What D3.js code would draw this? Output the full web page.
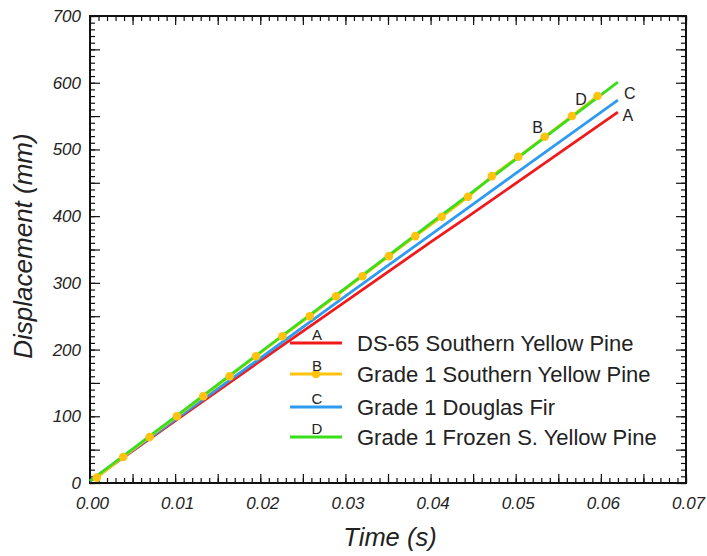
<!DOCTYPE html>
<html>
<head>
<meta charset="utf-8">
<script src="https://cdn.jsdelivr.net/npm/d3@7"></script>
<style>
  body { margin: 0; background: #fff; }
  text { font-family: "Liberation Sans", Arial, sans-serif; fill: #222; }
</style>
</head>
<body>
<div id="wrap"></div>
<script>
// data
const seriesNames = ["DS-65 Southern Yellow Pine", "Grade 1 Southern Yellow Pine", "Grade 1 Douglas Fir", "Grade 1 Frozen S. Yellow Pine"];
const seriesKeys = ["A", "B", "C", "D"];
const colors = ["#f01a1a", "#ffc20e", "#2f9bf0", "#3ade1a"];

const timeA = [0, 0.01, 0.02, 0.03, 0.04, 0.044, 0.05, 0.062];
const dispA = [3, 93, 183, 272, 361, 396, 449, 556];

const timeB = [0.0008, 0.0039, 0.0070, 0.0102, 0.0133, 0.0164, 0.0195, 0.0226, 0.0258, 0.0289,
  0.0320, 0.0351, 0.0382, 0.0413, 0.0444, 0.0472, 0.0503, 0.0534, 0.0566, 0.0596];
const dispB = [8, 39, 69, 100, 130, 160, 190, 220, 250, 280, 310, 340, 370, 399, 429, 460, 489, 519, 550, 580];

const timeC = [0, 0.01, 0.02, 0.03, 0.04, 0.05, 0.062];
const dispC = [3, 95, 187, 280, 372, 464, 574];

const timeD = [0, 0.01, 0.02, 0.03, 0.04, 0.05, 0.062];
const dispD = [3, 99, 196, 292, 389, 485, 601];

const xTicks = [0, 0.01, 0.02, 0.03, 0.04, 0.05, 0.06, 0.07];
const yTicks = [0, 100, 200, 300, 400, 500, 600, 700];

const width = 707;
const height = 556;
const plot = { left: 90, right: 686, top: 16, bottom: 483 };

let svg = d3.select("#wrap")
  .append("svg")
  .attr("width", width)
  .attr("height", height);

const x = d3.scaleLinear().domain([0, 0.07]).range([plot.left, plot.right]);
const y = d3.scaleLinear().domain([0, 700]).range([plot.bottom, plot.top]);

const minorX = d3.range(0, 71).map(i => i / 1000);
const midX = d3.range(0, 15).map(i => i * 0.005);
const minorY = d3.range(0, 71).map(i => i * 10);
const midY = d3.range(0, 15).map(i => i * 50);

// 画坐标轴 - ticks point inward on all four sides
function tickAxis(axis, values, size, transform, fmt, pad) {
  const g = svg.append("g").attr("transform", transform);
  axis.tickValues(values).tickSizeInner(size).tickSizeOuter(0).tickPadding(pad || 9);
  axis.tickFormat(fmt || "");
  g.call(axis);
  g.select(".domain").remove();
  g.selectAll(".tick line").attr("stroke", "#111").attr("stroke-width", 1.2);
  g.selectAll(".tick text")
    .style("font-size", "17px")
    .style("font-style", "italic")
    .attr("fill", "#222");
  return g;
}
const f2 = d3.format(".2f");
tickAxis(d3.axisBottom(x), minorX, -5, `translate(0,${plot.bottom})`);
tickAxis(d3.axisBottom(x), midX, -9, `translate(0,${plot.bottom})`);
tickAxis(d3.axisBottom(x), xTicks, 0, `translate(2,${plot.bottom})`, f2, 14);
tickAxis(d3.axisTop(x), minorX, -5, `translate(0,${plot.top})`);
tickAxis(d3.axisTop(x), midX, -9, `translate(0,${plot.top})`);
tickAxis(d3.axisLeft(y), minorY, -5, `translate(${plot.left},0)`);
tickAxis(d3.axisLeft(y), midY, -10, `translate(${plot.left},0)`);
tickAxis(d3.axisLeft(y), yTicks, 0, `translate(${plot.left},0)`, d3.format("d"), 9);
tickAxis(d3.axisRight(y), minorY, -5, `translate(${plot.right},0)`);
tickAxis(d3.axisRight(y), midY, -10, `translate(${plot.right},0)`);

// frame
svg.append("rect")
  .attr("x", plot.left)
  .attr("y", plot.top)
  .attr("width", plot.right - plot.left)
  .attr("height", plot.bottom - plot.top)
  .attr("fill", "none")
  .attr("stroke", "#111")
  .attr("stroke-width", 2);

// axis titles
svg.append("text")
  .attr("x", 390)
  .attr("y", 546)
  .attr("text-anchor", "middle")
  .style("font-size", "25.5px")
  .style("font-style", "italic")
  .text("Time (s)");
svg.append("text")
  .attr("transform", "translate(32,246) rotate(-90)")
  .attr("text-anchor", "middle")
  .style("font-size", "26px")
  .style("font-style", "italic")
  .text("Displacement (mm)");

// lines
const line = d3.line().x(d => x(d[0])).y(d => y(d[1]));
const zip = (a, b) => a.map((t, i) => [t, b[i]]);
const dataA = zip(timeA, dispA);
const dataB = zip(timeB, dispB);
const dataC = zip(timeC, dispC);
const dataD = zip(timeD, dispD);

[[dataA, 0], [dataC, 2], [dataB, 1], [dataD, 3]].forEach(([data, k]) => {
  svg.append("path")
    .datum(data)
    .attr("d", line)
    .attr("fill", "none")
    .attr("stroke", colors[k])
    .attr("stroke-width", 2.8);
});
svg.selectAll(".mark")
  .data(dataB)
  .enter()
  .append("circle")
  .attr("cx", d => x(d[0]))
  .attr("cy", d => y(d[1]))
  .attr("r", 4.3)
  .attr("fill", colors[1]);

// end labels
function endLabel(pt, dx, dy, s) {
  svg.append("text")
    .attr("x", x(pt[0]) + dx)
    .attr("y", y(pt[1]) + dy)
    .attr("text-anchor", "middle")
    .style("font-size", "16px")
    .text(s);
}
endLabel(dataA[dataA.length - 1], 10, 9, "A");
endLabel(dataC[dataC.length - 1], 12, -1, "C");
endLabel(dataB[18], 9, -11, "D");
endLabel(dataB[17], -7, -4, "B");

// legend
const legendX = 290;
const legendY = [343, 374, 407, 437];
seriesNames.forEach((name, i) => {
  const g = svg.append("g");
  g.append("line")
    .attr("x1", legendX).attr("x2", legendX + 52)
    .attr("y1", legendY[i]).attr("y2", legendY[i])
    .attr("stroke", colors[i])
    .attr("stroke-width", 2.8);
  if (i === 1) {
    g.append("circle")
      .attr("cx", legendX + 26).attr("cy", legendY[i])
      .attr("r", 4.3).attr("fill", colors[i]);
  }
  g.append("text")
    .attr("x", legendX + 27).attr("y", legendY[i] - 3)
    .attr("text-anchor", "middle")
    .style("font-size", "15px")
    .text(seriesKeys[i]);
  g.append("text")
    .attr("x", 357).attr("y", legendY[i])
    .attr("dy", "0.35em")
    .style("font-size", "22px")
    .text(name);
});
</script>
</body>
</html>
